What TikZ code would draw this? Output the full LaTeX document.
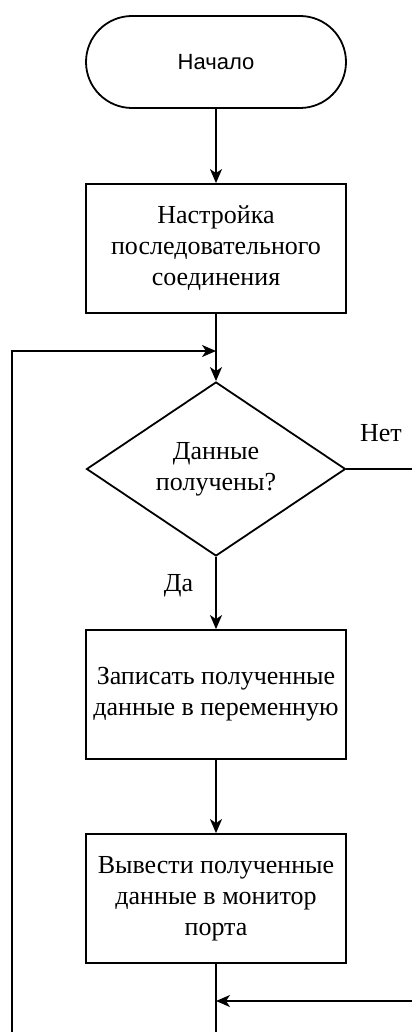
\documentclass[tikz,border=0pt]{standalone}
\usepackage{fontspec}
\setmainfont{Liberation Serif}
\newfontfamily\labelsans{Liberation Sans}
\usetikzlibrary{arrows.meta,shapes.geometric}

\begin{document}
\begin{tikzpicture}[x=1pt,y=-1pt,
  line width=1.8pt,
  every node/.style={inner sep=0pt, align=center},
  txt/.style={font=\fontsize{26}{31}\selectfont},
  term/.style={draw, rounded corners=46pt, minimum width=260pt, minimum height=92pt,
    font=\labelsans\fontsize{22}{27}\selectfont},
  proc/.style={draw, txt, minimum width=260pt, minimum height=129pt},
  dec/.style={draw, txt, diamond, aspect=1.49, minimum width=259pt, minimum height=174pt},
  flow/.style={-{Stealth[length=14pt,width=12pt,inset=4pt]}},
  lbl/.style={txt}]

\useasboundingbox (0,0) rectangle (412,1032);

% blocks of the flowchart
\node[term] (start) at (216,62) {Начало};
\node[proc] (setup) at (216,248.5) {Настройка\\последовательного\\соединения};
\node[dec]  (check) at (216,469) {Данные\\получены?};
\node[proc] (store) at (216,694.5) {Записать полученные\\данные в переменную};
\node[proc] (show)  at (216,898.5) {Вывести полученные\\данные в монитор\\порта};

% bend and end points of the loop lines
\coordinate (loopin)  at (216,351);
\coordinate (lefttop) at (12,351);
\coordinate (leftbot) at (12,1032);
\coordinate (noout)   at (412,469);
\coordinate (noin)    at (412,1001);
\coordinate (merge)   at (216,1001);
\coordinate (downend) at (216,1032);

% main flow
\draw[flow] (start) -- (setup);
\draw[flow] (setup) -- (check);
\draw[flow] (check) -- node[lbl, pos=0.4, left=22pt] {Да} (store);
\draw[flow] (store) -- (show);
\draw (show) -- (downend);

% return loop on the left
\draw[flow] (leftbot) -- (lefttop) -- (loopin);

% "no" branch on the right
\draw (check.east) -- (noout);
\node[lbl] (no) at (381,433) {Нет};
\draw[flow] (noin) -- (merge);
\end{tikzpicture}
\end{document}
